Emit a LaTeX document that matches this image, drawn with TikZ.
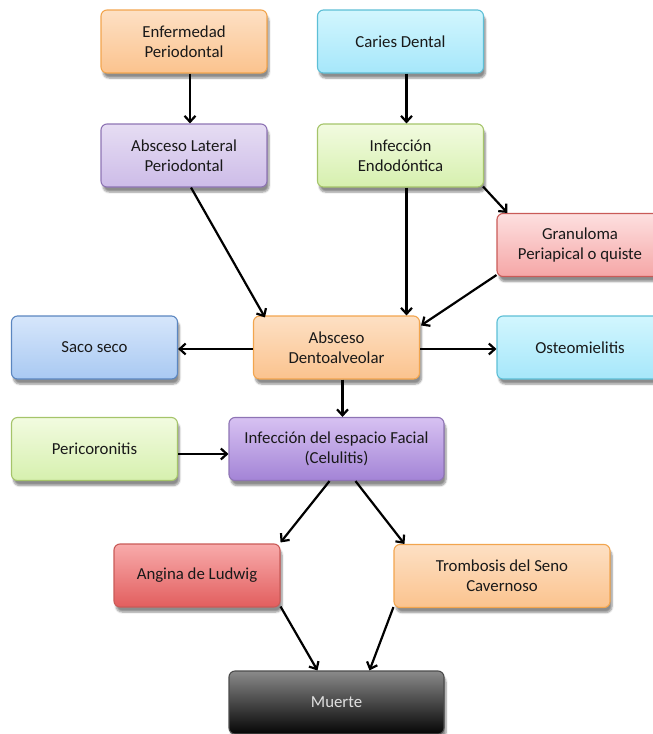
\documentclass[tikz,border=0pt]{standalone}
\usepackage{fontspec}
\setmainfont{Carlito}
\usetikzlibrary{arrows.meta,shadows.blur}

%box colours (top, bottom, line)
\definecolor{orTop}{HTML}{FDE0C4}
\definecolor{orBot}{HTML}{FBC38E}
\definecolor{orLine}{HTML}{F2A54E}
\definecolor{cyTop}{HTML}{D2F6FE}
\definecolor{cyBot}{HTML}{A6E7FA}
\definecolor{cyLine}{HTML}{5DBFD6}
\definecolor{puTop}{HTML}{E6DDF3}
\definecolor{puBot}{HTML}{CDBCE8}
\definecolor{puLine}{HTML}{8E74B4}
\definecolor{grTop}{HTML}{F2FBE0}
\definecolor{grBot}{HTML}{D6F0AE}
\definecolor{grLine}{HTML}{A5C46A}
\definecolor{reTop}{HTML}{FDE0E0}
\definecolor{reBot}{HTML}{F5A6A6}
\definecolor{reLine}{HTML}{C95B58}
\definecolor{blTop}{HTML}{D6E6FB}
\definecolor{blBot}{HTML}{A9C9F2}
\definecolor{blLine}{HTML}{5B86C0}
\definecolor{dpTop}{HTML}{D7C2F2}
\definecolor{dpBot}{HTML}{A383D6}
\definecolor{drTop}{HTML}{F8ABAB}
\definecolor{drBot}{HTML}{E25E5E}
\definecolor{bkTop}{HTML}{8A8A8A}
\definecolor{bkBot}{HTML}{050505}

\tikzset{
  box/.style={rounded corners=6pt, line width=1.1pt, minimum width=166pt,
    minimum height=63pt, align=center, text=black!90,
    font=\fontsize{16.8}{20}\selectfont,
    blur shadow={shadow xshift=2pt, shadow yshift=-5pt, shadow blur steps=6, shadow opacity=45}},
  orbox/.style={box, draw=orLine, top color=orTop, bottom color=orBot},
  cybox/.style={box, draw=cyLine, top color=cyTop, bottom color=cyBot},
  pubox/.style={box, draw=puLine, top color=puTop, bottom color=puBot},
  grbox/.style={box, draw=grLine, top color=grTop, bottom color=grBot},
  rebox/.style={box, draw=reLine, top color=reTop, bottom color=reBot},
  blbox/.style={box, draw=blLine, top color=blTop, bottom color=blBot},
  arr/.style={-{Straight Barb[length=6pt,width=11pt]}, line width=2.2pt, black}
}

\begin{document}
\begin{tikzpicture}[x=1pt,y=-1pt]
\useasboundingbox (0,0) rectangle (653,734);

%top row
\node[orbox] (enf) at (184,41.5) {Enfermedad\\Periodontal};
\node[cybox] (caries) at (400.5,41.5) {Caries Dental};

%second row
\node[pubox] (lateral) at (184,155.5) {Absceso Lateral\\Periodontal};
\node[grbox] (endo) at (400.5,155.5) {Infección\\Endodóntica};
\node[rebox] (granuloma) at (580,245) {Granuloma\\Periapical o quiste};

%middle row
\node[orbox] (dento) at (336.5,347.5) {Absceso\\Dentoalveolar};
\node[blbox] (saco) at (94.5,347.5) {Saco seco};
\node[cybox] (osteo) at (580,347.5) {Osteomielitis};

%facial space
\node[grbox] (peric) at (94.5,449) {Pericoronitis};
\node[box, draw=puLine, top color=dpTop, bottom color=dpBot, minimum width=215pt] (facial) at (336.5,449) {Infección del espacio Facial\\(Celulitis)};

%complications
\node[box, draw=reLine, top color=drTop, bottom color=drBot] (ludwig) at (197,575.5) {Angina de Ludwig};
\node[orbox, minimum width=216pt] (seno) at (502,576) {Trombosis del Seno\\Cavernoso};
\node[box, draw=black!70, top color=bkTop, bottom color=bkBot, minimum width=215pt, text=black!12] (muerte) at (336.5,702.5) {Muerte};

%arrows
\draw[arr] ([xshift=6pt]enf.south) -- ([xshift=6pt]lateral.north);
\draw[arr] ([xshift=6pt]caries.south) -- ([xshift=6pt]endo.north);
\draw[arr] ([xshift=7pt]lateral.south) -- ([xshift=12pt,yshift=-2pt]dento.north west);
\draw[arr] ([xshift=6pt]endo.south) -- ([xshift=70pt]dento.north);
\draw[arr] ([xshift=-1pt,yshift=1pt]endo.south east) -- ([xshift=11pt]granuloma.north west);
\draw[arr] ([yshift=2pt]granuloma.south west) -- ([xshift=1pt,yshift=-10pt]dento.north east);
\draw[arr] ([yshift=-1.5pt]dento.west) -- ([yshift=-1.5pt]saco.east);
\draw[arr] ([yshift=-1.5pt]dento.east) -- ([yshift=-1.5pt]osteo.west);
\draw[arr] ([xshift=6pt]dento.south) -- ([xshift=6pt]facial.north);
\draw[arr] ([yshift=-5pt]peric.east) -- ([yshift=-5pt]facial.west);
\draw[arr] ([xshift=-7pt]facial.south) -- ([yshift=1pt]ludwig.north east);
\draw[arr] ([xshift=19pt]facial.south) -- ([xshift=11pt]seno.north west);
\draw[arr] ([yshift=1pt]ludwig.south east) -- ([xshift=-19pt]muerte.north);
\draw[arr] ([yshift=1pt]seno.south west) -- ([xshift=33pt]muerte.north);

\end{tikzpicture}
\end{document}
